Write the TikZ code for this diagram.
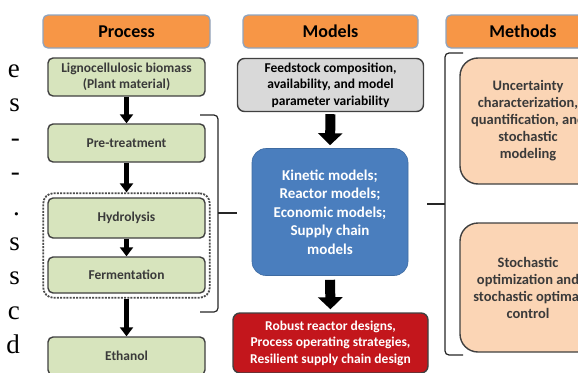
\documentclass[tikz,border=0pt]{standalone}
\usepackage{fontspec}
\setmainfont{Carlito}
\newfontfamily\pageserif{Liberation Serif}
\usepackage{xcolor}
\definecolor{hdrorange}{HTML}{F79646}
\definecolor{hdrline}{HTML}{8EA4C0}
\definecolor{procgreen}{HTML}{D7E4BD}
\definecolor{feedgray}{HTML}{D9D9D9}
\definecolor{modblue}{HTML}{4A7EBE}
\definecolor{outred}{HTML}{C3161C}
\definecolor{methpeach}{HTML}{FBD5B5}
\definecolor{edgegray}{HTML}{404040}
\definecolor{txtgray}{HTML}{3A3A3A}
\usepackage{tikz}
\usetikzlibrary{arrows.meta, positioning, fit}
\tikzset{
  hdr/.style     ={rectangle, rounded corners=5pt, draw=hdrline, line width=1.3pt, fill=hdrorange,
                   text=black, align=center, minimum height=33pt, font=\bfseries\fontsize{18}{20}\selectfont},
  procbox/.style ={rectangle, rounded corners=5pt, draw=edgegray, line width=1.4pt, fill=procgreen,
                   text=txtgray, align=center, minimum width=157pt, font=\bfseries\fontsize{13.5}{16.5}\selectfont},
  feedbox/.style ={rectangle, rounded corners=7pt, draw=edgegray, line width=1.4pt, fill=feedgray,
                   text=black, align=center, font=\bfseries\fontsize{13.5}{16.5}\selectfont},
  modbox/.style  ={rectangle, rounded corners=14pt, draw=modblue!85!black, line width=0.6pt, fill=modblue,
                   text=white, align=center, font=\bfseries\fontsize{15}{18.5}\selectfont},
  outbox/.style  ={rectangle, rounded corners=7pt, draw=edgegray, line width=1.4pt, fill=outred,
                   text=white, align=center, font=\bfseries\fontsize{13.5}{16.5}\selectfont},
  methbox/.style ={rectangle, rounded corners=18pt, draw=edgegray, line width=1.4pt, fill=methpeach,
                   text=txtgray, align=center, minimum width=136pt, font=\bfseries\fontsize{14.5}{17}\selectfont},
  grpbox/.style  ={rectangle, rounded corners=10pt, draw=black!70, line width=1.8pt,
                   dash pattern=on 2pt off 1.2pt, inner sep=4pt},
  parr/.style    ={-{Triangle[width=13pt, length=9pt]}, line width=5pt, color=black},
  marr/.style    ={-{Triangle[width=24pt, length=12pt]}, line width=10pt, color=black},
  brk/.style     ={line width=1.2pt, color=black!85, rounded corners=4pt},
}

\begin{document}
\begin{tikzpicture}[x=1pt, y=-1pt]
  \useasboundingbox (0,0) rectangle (578,372);
  \clip (0,0) rectangle (578,372);
  % column headers
  \node[hdr, minimum width=167pt] (hproc) at (126.5,31.5) {Process};
  \node[hdr, minimum width=175pt] (hmod)  at (330.5,31.5) {Models};
  \node[hdr, minimum width=154pt] (hmeth) at (523,31.5)   {Methods};
  % process column
  \node[procbox, minimum height=38pt] (bio) at (126.5,77)  {Lignocellulosic biomass\\(Plant material)};
  \node[procbox, minimum height=38pt] (pre) at (126.5,143) {Pre-treatment};
  \node[procbox, minimum height=40pt] (hyd) at (126.5,218) {Hydrolysis};
  \node[procbox, minimum height=36pt] (fer) at (126.5,275) {Fermentation};
  \node[procbox, minimum height=38pt] (eth) at (126.5,356) {Ethanol};
  \node[grpbox, fit=(hyd)(fer)] (grp) {};
  \draw[parr] (bio.south) -- (pre.north);
  \draw[parr] (pre.south) -- (grp.north);
  \draw[parr] (hyd.south) -- (fer.north);
  \draw[parr] (grp.south) -- (eth.north);
  % models column
  \node[feedbox, minimum width=186pt, minimum height=53pt] (feed) at (330.5,85) {Feedstock composition,\\availability, and model\\parameter variability};
  \node[modbox, minimum width=156pt, minimum height=127pt] (kin) at (330,212) {Kinetic models;\\Reactor models;\\Economic models;\\Supply chain\\models};
  \node[outbox, minimum width=195pt, minimum height=60pt] (rob) at (330.5,343) {Robust reactor designs,\\Process operating strategies,\\Resilient supply chain design};
  \draw[marr, shorten <=2pt, shorten >=3pt] (feed.south) -- (kin.north);
  \draw[marr, shorten <=4pt, shorten >=3pt] (kin.south) -- (rob.north);
  % methods column
  \node[methbox, minimum height=126pt] (unc) at (528,121)   {Uncertainty\\characterization,\\quantification, and\\stochastic\\modeling};
  \node[methbox, minimum height=129pt] (sto) at (528,287.5) {Stochastic\\optimization and\\stochastic optimal\\control};
  % brackets
  \coordinate (pbtop) at (200,115);
  \coordinate (pbbot) at (200,312);
  \coordinate (pbtip) at (237,213);
  \coordinate (mbtop) at (463,53);
  \coordinate (mbbot) at (463,355);
  \coordinate (mbtip) at (427,204);
  \draw[brk] (pbtop) -- (218,115) -- (218,312) -- (pbbot);
  \draw[line width=1.2pt, color=black!85] (218,213) -- (pbtip);
  \draw[brk] (mbtop) -- (445,53) -- (445,355) -- (mbbot);
  \draw[line width=1.2pt, color=black!85] (445,204) -- (mbtip);
  % cut-off text of the page on the left
  \foreach \ch [count=\i] in {e,s,-,-,.,s,s,c,d}
    \node[anchor=base east, inner sep=0pt, font=\pageserif\fontsize{27}{27}\selectfont] (pg\i) at (20,{42.5+34.6*\i}) {\ch};
\end{tikzpicture}
\end{document}
